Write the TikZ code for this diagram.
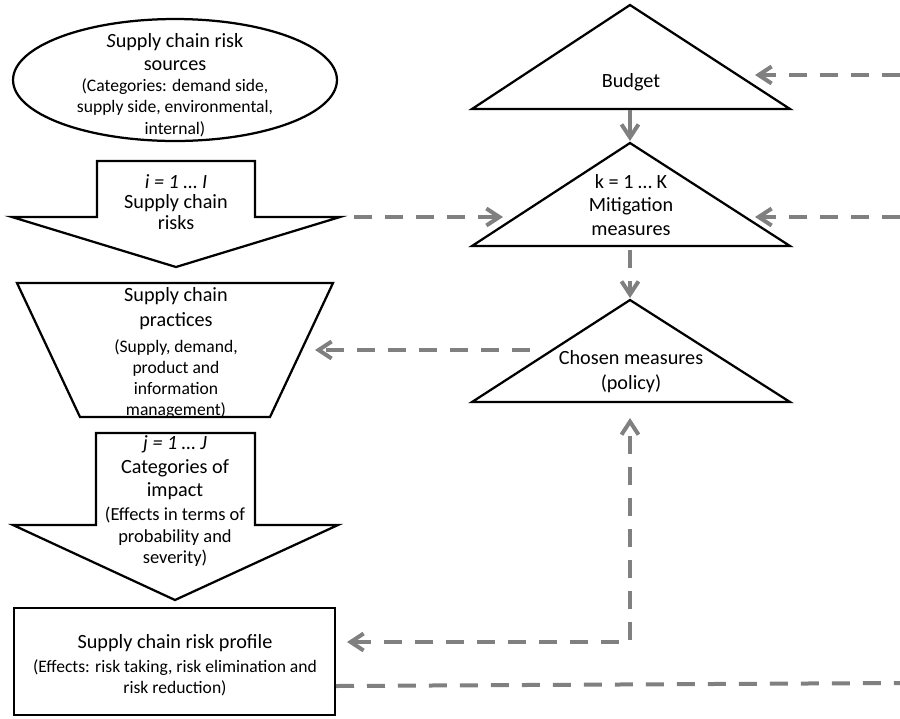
\documentclass[tikz,border=0pt]{standalone}
\usepackage{fontspec}
\setmainfont{Carlito}
\usepackage{xcolor}
\usepackage{tikz}
\usetikzlibrary{shapes,arrows.meta,positioning}

\definecolor{linkgray}{RGB}{128,128,128}

\tikzset{
    block/.style={line width=0.45mm, draw=black, fill=white},
    caption/.style={align=center, inner sep=0pt, font=\fontsize{11.5}{#1}\selectfont},
    caption/.default=13.5pt,
    remark/.style={align=center, inner sep=0pt, font=\fontsize{10}{#1}\selectfont},
    remark/.default=12pt,
    >={Straight Barb[length=2.6mm,width=3.4mm]},
    link/.style={
        draw=linkgray,
        line width=0.8mm,
        dash pattern=on 3.6mm off 2.6mm,
        ->
    }
}

\begin{document}
\begin{tikzpicture}[x=0.02cm, y=-0.02cm]
                \useasboundingbox (0,0) rectangle (900,718);

                % left column
                \node[
                    block,
                    ellipse,
                    minimum width=6.48cm,
                    minimum height=2.44cm
                ] (sources) at (175,80) {};
                \node[caption=13.4pt] (sources title) at (175,52) {\textit{S}upply chain risk\\sources};
                \node[remark=12.2pt] (sources note) at (175,107.5) {(Categories: demand side,\\supply side, environmental,\\internal)};

                \draw[
                    block
                ] (97,161) -- (255,161) -- (255,217) -- (340,217) -- (176,267) -- (12,217) -- (97,217) -- cycle;
                \node[caption=11.7pt] (risks) at (176,202) {\textit{i = 1 … I}\\Supply chain\\risks};

                \draw[
                    block
                ] (17,283) -- (333,283) -- (270,417) -- (80,417) -- cycle;
                \node[caption=14.2pt] (practices title) at (176,308.5) {Supply chain\\practices};
                \node[remark=11.8pt] (practices note) at (176,379) {(Supply, demand,\\product and\\information\\management)};

                \draw[
                    block
                ] (96,433) -- (255,433) -- (255,525) -- (338,525) -- (175,600) -- (13,525) -- (96,525) -- cycle;
                \node[caption=13.4pt] (impact title) at (175,468) {\textit{j = 1 … J}\\Categories of\\impact};
                \node[remark=12.2pt, font=\fontsize{10.5}{12.2pt}\selectfont] (impact note) at (175,537) {(Effects in terms of\\probability and\\severity)};

                \draw[
                    block
                ] (14,608) rectangle (335,715);
                \node[caption] (profile title) at (175,643) {Supply chain risk profile};
                \node[remark] (profile note) at (175,677.5) {(Effects: risk taking, risk elimination and\\risk reduction)};

                % right column
                \draw[
                    block
                ] (472,109) -- (630,5) -- (790,109) -- cycle;
                \node[caption] (budget) at (631,82) {Budget};

                \draw[
                    block
                ] (472,246) -- (630,143) -- (790,246) -- cycle;
                \node[caption=13.4pt] (mitigation) at (631,205) {k = 1 … K\\Mitigation\\measures};

                \draw[
                    block
                ] (472,402) -- (630,300) -- (790,402) -- cycle;
                \node[caption=14.2pt] (chosen) at (631,372) {Chosen measures\\(policy)};

                % connector ends
                \coordinate (budget out) at (630,110);
                \coordinate (mitigation top) at (630,141);
                \coordinate (mitigation out) at (630,250);
                \coordinate (chosen top) at (630,298);
                \coordinate (risks out) at (354,217);
                \coordinate (mitigation left) at (503,217);
                \coordinate (edge top) at (900,75);
                \coordinate (budget right) at (755,75);
                \coordinate (edge mid) at (900,217);
                \coordinate (mitigation right) at (755,217);
                \coordinate (chosen out) at (530,350);
                \coordinate (practices in) at (315,350);
                \coordinate (profile in) at (347,642);
                \coordinate (chosen base) at (630,418);
                \coordinate (profile out) at (336,686);
                \coordinate (edge low) at (900,683);

                \draw[link, solid] (budget out) -- (mitigation top);
                \draw[link] (mitigation out) -- (chosen top);
                \draw[link] (risks out) -- (mitigation left);
                \draw[link] (edge top) -- (budget right);
                \draw[link] (edge mid) -- (mitigation right);
                \draw[link] (chosen out) -- (practices in);
                \draw[link, <->] (profile in) -| (chosen base);
                \draw[link, -] (profile out) -- (edge low);

            \end{tikzpicture}
\end{document}
